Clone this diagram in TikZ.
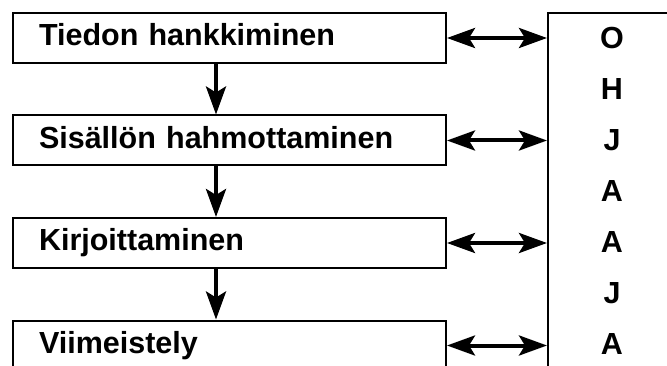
\documentclass[tikz,border=0pt]{standalone}
\usepackage{fontspec}
\setmainfont{Liberation Sans}
\usetikzlibrary{arrows.meta,positioning}

\begin{document}
\begin{tikzpicture}[x=1pt, y=-1pt,
        font=\fontsize{30.5}{36}\selectfont\bfseries,
        >={Stealth[length=28pt,width=20pt,inset=6pt]}, % Pfeilspitzen
        schritt/.style={draw, line width=2pt, anchor=north west,
            text width=381pt, inner xsep=26pt, inner ysep=0pt,
            minimum height=50pt, align=left,
            text height=22pt, text depth=6pt},
        pfeil/.style={->, line width=4pt},
        doppelpfeil/.style={<->, line width=4pt},
        node distance=50.5pt
        ]
    \useasboundingbox (0,0) rectangle (667,366);
    \clip (0,0) rectangle (667,366);

    % Schritte
    \node[schritt] (S1) at (12,12) {Tiedon hankkiminen};
    \node[schritt, below=of S1] (S2) {Sisällön hahmottaminen};
    \node[schritt, below=of S2] (S3) {Kirjoittaminen};
    \node[schritt, below=of S3] (S4) {Viimeistely};

    % Ohjaus
    \node[draw, line width=2pt, anchor=north west,
          minimum width=128pt, minimum height=380pt] (O) at (547,12) {};
    \foreach \b [count=\i] in {O,H,J,A,A,J,A}
        \node (B\i) at (612,{38+51*(\i-1)}) {\b};

    % Pfeile
    \foreach \i/\j in {1/2,2/3,3/4}
        \draw[pfeil] ([xshift=-13.5pt]S\i.south) -- ([xshift=-13.5pt]S\j.north);
    \foreach \i in {1,...,4}
        \draw[doppelpfeil] (S\i.east) -- (S\i.east -| O.west);
\end{tikzpicture}
\end{document}
